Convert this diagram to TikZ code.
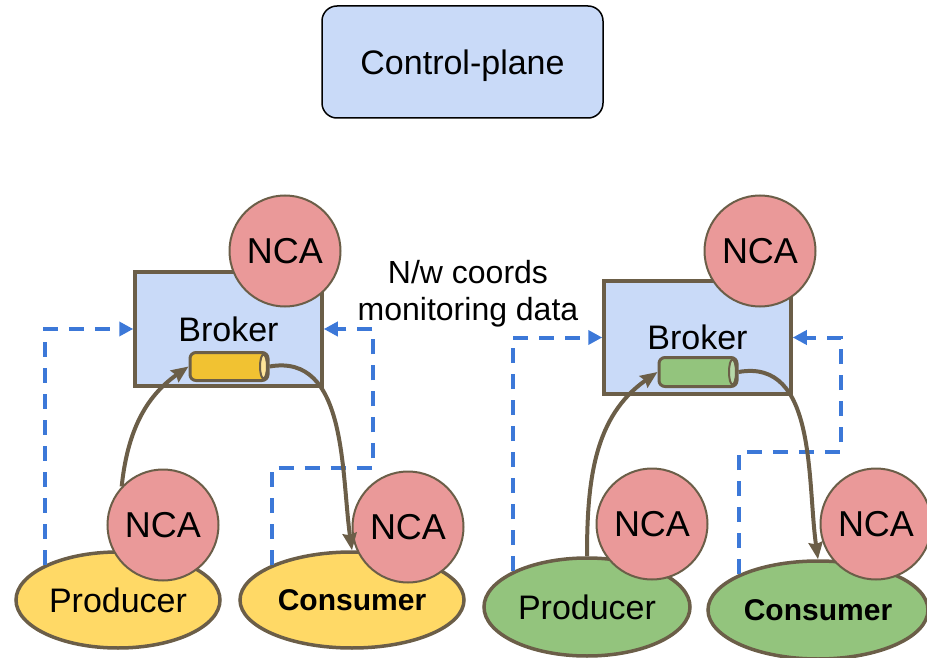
\documentclass[tikz,border=0pt]{standalone}
\usepackage{fontspec}
\setmainfont{Liberation Sans}
\usetikzlibrary{shapes.geometric,arrows.meta}

\definecolor{planeblue}{HTML}{C9DAF8}
\definecolor{edgebrown}{HTML}{6B5E48}
\definecolor{ncared}{HTML}{EA9999}
\definecolor{ylwfill}{HTML}{FFD966}
\definecolor{ylwcyl}{HTML}{F1C232}
\definecolor{ylwend}{HTML}{FFE599}
\definecolor{grnfill}{HTML}{93C47D}
\definecolor{grnend}{HTML}{B6D7A8}
\definecolor{monblue}{HTML}{3C78D8}

\begin{document}
\begin{tikzpicture}[x=1pt,y=1pt,
    bigtxt/.style={font=\fontsize{34}{40}\selectfont},
    brokerbox/.style={draw=edgebrown,line width=3.5pt,fill=planeblue,minimum width=187pt,minimum height=114pt,inner sep=0pt,bigtxt},
    nca/.style={circle,draw=edgebrown,line width=2pt,fill=ncared,minimum size=111pt,inner sep=0pt,font=\fontsize{36}{42}\selectfont},
    app/.style={ellipse,draw=edgebrown,line width=3.5pt,minimum height=96pt,inner sep=0pt,bigtxt},
    topic/.style={draw=edgebrown,line width=3pt,rounded corners=6pt,minimum width=78pt,minimum height=28pt,inner sep=0pt},
    topicend/.style={draw=edgebrown,line width=2pt},
    mon/.style={draw=monblue,line width=4pt,dash pattern=on 15pt off 11pt,-{Triangle[length=14pt,width=14pt]}},
    flow/.style={draw=edgebrown,line width=4pt,-{Stealth[length=17pt,width=14pt,inset=2pt]}}]
    \useasboundingbox (0,0) rectangle (927,-658);

    \node[draw=black,line width=1.5pt,rounded corners=15pt,fill=planeblue,minimum width=281pt,minimum height=112pt,text depth=0pt,bigtxt] (ctrl) at (462.5,-62) {Control-plane};

    % left cluster
    \node[brokerbox] (brokL) at (228.5,-329) {Broker};
    \node[topic,fill=ylwcyl] (cylL) at (229,-366.5) {};
    \draw[topicend,fill=ylwend] ([xshift=-6pt]cylL.east) ellipse (3.5pt and 12pt);
    \node[nca] (ncaBL) at (285,-251) {NCA};
    \node[app,fill=ylwfill,minimum width=204pt] (prodL) at (118,-600) {Producer};
    \node[app,fill=ylwfill,minimum width=224pt,font=\fontsize{30}{36}\selectfont\bfseries] (consL) at (352,-600) {Consumer};
    \node[nca] (ncaPL) at (163,-525) {NCA};
    \node[nca] (ncaCL) at (408,-527) {NCA};

    % right cluster
    \node[brokerbox,minimum height=113pt] (brokR) at (697.5,-337.5) {Broker};
    \node[topic,fill=grnfill,minimum height=29pt] (cylR) at (698,-372) {};
    \draw[topicend,fill=grnend] ([xshift=-6pt]cylR.east) ellipse (3.5pt and 12.5pt);
    \node[nca] (ncaBR) at (760,-251) {NCA};
    \node[app,fill=grnfill,minimum width=206pt,minimum height=98pt] (prodR) at (587,-607) {Producer};
    \node[app,fill=grnfill,minimum width=220pt,minimum height=98pt,font=\fontsize{30}{36}\selectfont\bfseries] (consR) at (818,-610) {Consumer};
    \node[nca] (ncaPR) at (652,-524) {NCA};
    \node[nca] (ncaCR) at (876,-524) {NCA};

    \node[align=center,font=\fontsize{32}{37}\selectfont] (monlbl) at (468,-294) {N/w coords\\monitoring data};

    % monitoring paths
    \coordinate (bendL) at (373,-468);
    \coordinate (bendR) at (841,-452);
    \draw[mon] (prodL.north west) |- (brokL.west);
    \draw[mon] (consL.north west) |- (bendL) |- (brokL.east);
    \draw[mon] (prodR.north west) |- (brokR.west);
    \draw[mon] (consR.north west) |- (bendR) |- (brokR.east);

    % data paths
    \draw[flow] (ncaPL.137) to[out=84,in=215] (cylL.west);
    \draw[flow] (cylL.east) to[out=10,in=98] (consL.north);
    \draw[flow] (prodR.north) to[out=90,in=215] (cylR.west);
    \draw[flow] (cylR.east) to[out=10,in=98] (consR.north);
\end{tikzpicture}
\end{document}
